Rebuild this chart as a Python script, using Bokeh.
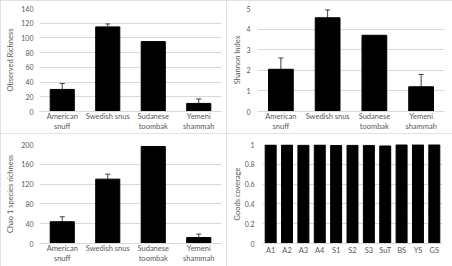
from bokeh.plotting import figure
from bokeh.layouts import column, row
from bokeh.models import ColumnDataSource, Whisker, TeeHead, NumeralTickFormatter, FixedTicker
from bokeh.embed import file_html
from bokeh.resources import INLINE

groups = ["American\nsnuff", "Swedish snus", "Sudanese\ntoombak", "Yemeni\nshammah"]

observed = [30, 115, 95, 11]
observed_err = [8, 4, 0, 6]

shannon = [2.05, 4.55, 3.7, 1.2]
shannon_err = [0.55, 0.38, 0, 0.6]

chao1 = [44, 130, 196, 12]
chao1_err = [10, 10, 0, 7]

samples = ["A1", "A2", "A3", "A4", "S1", "S2", "S3", "SuT", "BS", "YS", "GS"]
goods = [0.995, 0.995, 0.993, 0.995, 0.99, 0.992, 0.991, 0.985, 0.998, 0.997, 0.998]

FONT = "Lato"
TXT = "#595959"
GRID = "#d9d9d9"


def make_panel(factors, vals, errs, ylabel, ymax, ticks, bw, borders, fmt=None,
               label_standoff=5, tick_standoff=6, x_standoff=0):
    left, right, top, bottom = borders
    p = figure(x_range=factors, y_range=(0, ymax), width=226, height=133,
               output_backend="svg", toolbar_location=None,
               min_border_left=left, min_border_right=right,
               min_border_top=top, min_border_bottom=bottom)
    p.styles = {"outline": "1px solid #d9d9d9", "outline-offset": "-1px"}
    src = ColumnDataSource(dict(x=factors, top=vals))
    p.vbar(x="x", top="top", width=bw, source=src, fill_color="black", line_color="black")
    if errs is not None:
        xs, lo, hi = [], [], []
        for f, v, e in zip(factors, vals, errs):
            if e > 0:
                xs.append(f)
                lo.append(v - e)
                hi.append(v + e)
        wsrc = ColumnDataSource(dict(x=xs, lower=lo, upper=hi))
        w = Whisker(base="x", lower="lower", upper="upper", source=wsrc,
                    line_color="#404040", line_width=1,
                    upper_head=TeeHead(size=5, line_color="#404040", line_width=1),
                    lower_head=TeeHead(size=5, line_color="#404040", line_width=1))
        p.add_layout(w)
    p.outline_line_color = None
    p.xgrid.grid_line_color = None
    p.ygrid.grid_line_color = GRID
    p.ygrid.grid_line_width = 1
    p.yaxis.ticker = FixedTicker(ticks=ticks)
    if fmt:
        p.yaxis.formatter = NumeralTickFormatter(format=fmt)
    for ax in (p.xaxis, p.yaxis):
        ax.major_tick_line_color = None
        ax.minor_tick_line_color = None
        ax.major_tick_out = 0
        ax.major_tick_in = 0
        ax.minor_tick_out = 0
        ax.minor_tick_in = 0
        ax.major_label_text_font = FONT
        ax.major_label_text_color = TXT
    p.yaxis.axis_line_color = None
    p.yaxis.major_label_text_font_size = "7px"
    p.yaxis.major_label_standoff = tick_standoff
    p.yaxis.axis_label = ylabel
    p.yaxis.axis_label_text_font = FONT
    p.yaxis.axis_label_text_font_size = "7.5px"
    p.yaxis.axis_label_text_font_style = "normal"
    p.yaxis.axis_label_text_color = TXT
    p.yaxis.axis_label_standoff = label_standoff
    p.xaxis.axis_line_color = GRID
    p.xaxis.major_label_text_font_size = "7.5px"
    p.xaxis.major_label_text_line_height = 1.15
    p.xaxis.major_label_standoff = x_standoff
    p.x_range.range_padding = 0
    return p


p1 = make_panel(groups, observed, observed_err, "Observed Richness", 140,
                list(range(0, 141, 20)), 0.53, (39, 5, 8, 21), label_standoff=3)
p2 = make_panel(groups, shannon, shannon_err, "Shannon Index", 5,
                [0, 1, 2, 3, 4, 5], 0.53, (31, 8, 8, 21), label_standoff=1, tick_standoff=7)
p3 = make_panel(groups, chao1, chao1_err, "Chao 1 species richness", 200,
                list(range(0, 201, 40)), 0.53, (39, 5, 11, 23), label_standoff=3)
p4 = make_panel(samples, goods, None, "Goods coverage", 1,
                [0, 0.2, 0.4, 0.6, 0.8, 1.0], 0.67, (36, 10, 11, 16), fmt="0.[0]",
                label_standoff=0, tick_standoff=8, x_standoff=2)

layout = column(row(p1, p2), row(p3, p4))
open("out.html", "w").write(file_html(layout, INLINE))
